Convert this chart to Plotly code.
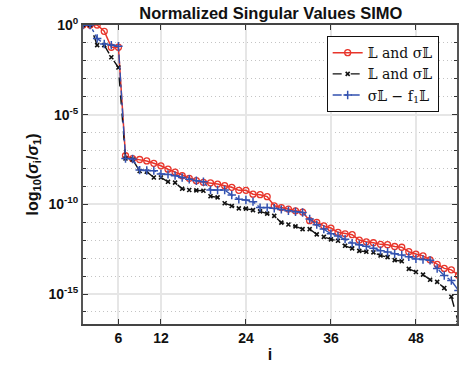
import plotly.graph_objects as go

# singular value index
idx = list(range(1, 55))

# log10(sigma_i / sigma_1) for each method
red_log = [0, 0, 0, -0.35, -1.24, -1.24, -7.29, -7.45, -7.5, -7.58,
           -7.71, -7.85, -8.04, -8.2, -8.4, -8.55, -8.68, -8.77, -8.8, -8.87,
           -8.96, -9.05, -9.22, -9.22, -9.43, -9.46, -9.57, -10.08, -10.18, -10.26,
           -10.36, -10.43, -10.91, -11.0, -11.2, -11.32, -11.56, -11.64, -11.69, -11.99,
           -12.09, -12.14, -12.23, -12.25, -12.35, -12.39, -12.64, -12.77, -12.87, -13.09,
           -13.35, -13.57, -13.65, -13.95]

black_log = [0, 0, -1.12, -1.12, -1.8, -2.37, -7.44, -7.5, -8.14, -8.18,
             -8.5, -8.5, -8.74, -8.79, -9.13, -9.2, -9.22, -9.24, -9.55, -9.61,
             -9.94, -10.09, -10.22, -10.24, -10.32, -10.39, -10.52, -10.64, -11.02, -11.12,
             -11.23, -11.38, -11.38, -11.67, -11.81, -11.95, -12.03, -12.31, -12.45, -12.59,
             -12.64, -12.68, -12.85, -12.94, -13.11, -13.17, -13.6, -13.77, -13.92, -14.2,
             -14.32, -14.66, -15.15, -16.6]

blue_log = [0, 0, -0.75, -1.06, -1.12, -1.18, -7.44, -7.47, -8.09, -8.11,
            -8.12, -8.31, -8.33, -8.4, -8.5, -8.6, -8.68, -8.74, -9.2, -9.2,
            -9.2, -9.48, -9.72, -9.76, -9.85, -10.18, -10.18, -10.22, -10.28, -10.36,
            -10.41, -10.45, -10.82, -11.13, -11.38, -11.64, -11.76, -11.94, -12.16, -12.25,
            -12.33, -12.44, -12.58, -12.66, -12.75, -12.82, -12.92, -13.04, -13.07, -13.12,
            -13.58, -13.97, -14.25, -14.8]

series_names = ["𝕃 and σ𝕃", "𝕃 and σ𝕃", "σ𝕃 − f<sub>1</sub>𝕃"]

x_ticks = [6, 12, 24, 36, 48]
y_tick_exps = [0, -5, -10, -15]


def ratios(exps):
    return [10.0 ** e for e in exps]


fig = go.Figure()

fig.add_trace(go.Scatter(
    x=idx, y=ratios(red_log), name=series_names[0], mode="lines+markers",
    line=dict(color="#e8352b", width=1.5),
    marker=dict(symbol="circle-open", size=6, color="#e8352b", line=dict(width=1.3)),
))
fig.add_trace(go.Scatter(
    x=idx, y=ratios(black_log), name=series_names[1], mode="lines+markers",
    line=dict(color="#111111", width=1.4, dash="dash"),
    marker=dict(symbol="x-thin-open", size=4, color="#111111", line=dict(width=1.6)),
))
fig.add_trace(go.Scatter(
    x=idx, y=ratios(blue_log), name=series_names[2], mode="lines+markers",
    line=dict(color="#3352b0", width=1.4, dash="dashdot"),
    marker=dict(symbol="cross-thin-open", size=6, color="#3352b0", line=dict(width=1.5)),
))

axis_font = dict(family="Liberation Sans", size=14, color="#111111")

fig.update_layout(
    width=459, height=365,
    margin=dict(l=83, r=0, t=25, b=41),
    paper_bgcolor="white", plot_bgcolor="white",
    title=dict(text="<b>Normalized Singular Values SIMO</b>",
               font=dict(family="Liberation Sans", size=16.5, color="#111111"),
               x=0.59, xanchor="center", y=0.963, yanchor="middle"),
    showlegend=True,
    legend=dict(x=0.951, xanchor="right", y=0.963, yanchor="top",
                bgcolor="white", bordercolor="#111111", borderwidth=1,
                font=dict(family="DejaVu Serif", size=14, color="#111111"),
                tracegroupgap=0, itemwidth=30),
    xaxis=dict(
        range=[1, 53.8], tickmode="array", tickvals=x_ticks,
        ticktext=[f"<b>{v}</b>" for v in x_ticks],
        tickfont=axis_font, ticks="inside", ticklen=5, tickcolor="#333333",
        showline=True, linecolor="#444444", linewidth=1.5, mirror="ticks",
        showgrid=True, gridcolor="#e6e6e6", gridwidth=1.5, zeroline=False,
        title=dict(text="<b>i</b>", font=dict(family="Liberation Sans", size=16, color="#111111"),
                   standoff=4),
    ),
    yaxis=dict(
        type="log", range=[-16.67, 0], tickmode="array",
        tickvals=[10.0 ** e for e in y_tick_exps],
        ticktext=[f"<b>10<sup>{e}</sup></b>" for e in y_tick_exps],
        tickfont=axis_font, ticks="inside", ticklen=5, tickcolor="#333333",
        showline=True, linecolor="#555555", linewidth=2, mirror="ticks",
        showgrid=True, gridcolor="#e6e6e6", gridwidth=1.5, zeroline=False,
        minor=dict(tickmode="array",
                   tickvals=[10.0 ** -k for k in range(1, 17) if k % 5 != 0],
                   ticks="inside", ticklen=3, tickcolor="#333333",
                   showgrid=True, griddash="1px,3px", gridcolor="#c4c4c4", gridwidth=1),
        title=dict(text="<b>log<sub>10</sub>(<i>σ</i><sub>i</sub>/<i>σ</i><sub>1</sub>)</b>",
                   font=dict(family="Liberation Sans", size=16, color="#111111"),
                   standoff=6),
    ),
)

fig.write_html("out.html")
